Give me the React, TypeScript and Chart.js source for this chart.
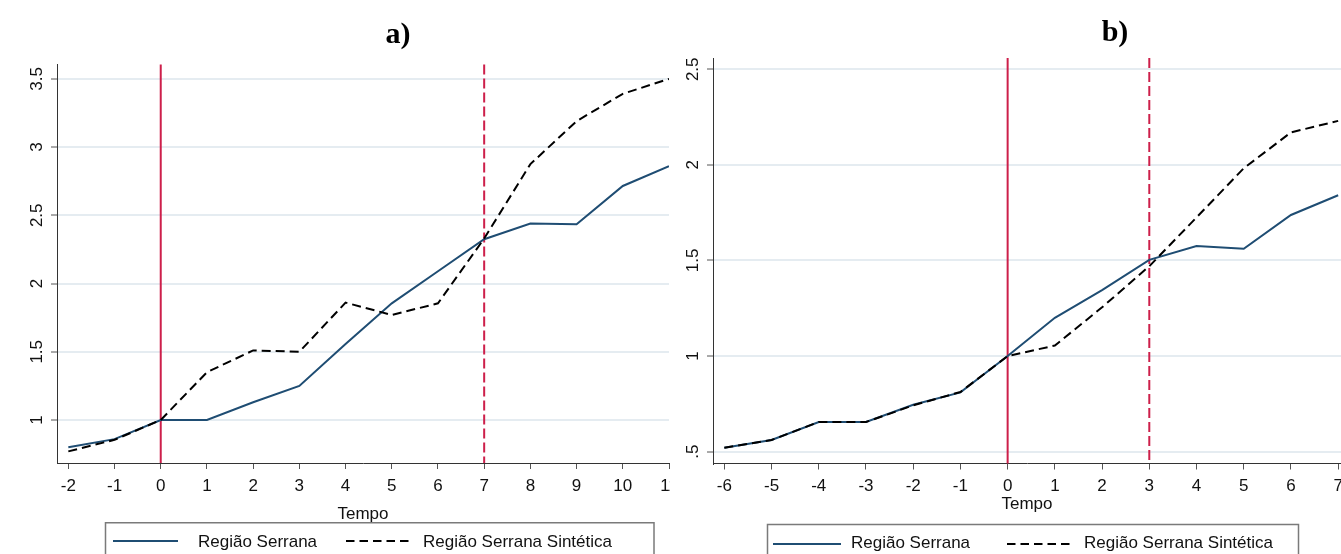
import React, { useEffect, useRef } from "react";
import Chart from "chart.js/auto";

// ---------- data ----------
const tempoA = [-2, -1, 0, 1, 2, 3, 4, 5, 6, 7, 8, 9, 10, 11];
const serranaA = [0.8, 0.86, 1.0, 1.0, 1.13, 1.25, 1.557, 1.855, 2.09, 2.325, 2.44, 2.435, 2.715, 2.86];
const sinteticaA = [0.77, 0.855, 1.0, 1.35, 1.51, 1.5, 1.86, 1.77, 1.855, 2.33, 2.875, 3.19, 3.39, 3.5];
const yTicksA = [1, 1.5, 2, 2.5, 3, 3.5];
const yLabelsA = ["1", "1.5", "2", "2.5", "3", "3.5"];
const vLinesA = [0, 7];

const tempoB = [-6, -5, -4, -3, -2, -1, 0, 1, 2, 3, 4, 5, 6, 7];
const serranaB = [0.52, 0.561, 0.655, 0.655, 0.745, 0.81, 1.0, 1.2, 1.345, 1.503, 1.575, 1.561, 1.738, 1.841];
const sinteticaB = [0.52, 0.561, 0.655, 0.655, 0.742, 0.812, 1.0, 1.055, 1.255, 1.47, 1.725, 1.982, 2.17, 2.23];
const yTicksB = [0.5, 1, 1.5, 2, 2.5];
const yLabelsB = [".5", "1", "1.5", "2", "2.5"];
const vLinesB = [0, 3];

const seriesNames = ["Região Serrana", "Região Serrana Sintética"];
const panelTitles = ["a)", "b)"];
const xTitle = "Tempo";

// ---------- style ----------
const NAVY = "#1f4d73";
const RED = "#cd1f4a";
const GRID = "#e5ecf1";
const SANS = "'Liberation Sans', Arial, sans-serif";

type Panel = {
  left: number; width: number; yAxisW: number; padTop: number; padRight: number; xAxisH: number;
  xmin: number; xmax: number; ymin: number; ymax: number; titlePadBottom: number;
  tempo: number[]; serrana: number[]; sintetica: number[]; yTicks: number[]; yLabels: string[]; vLines: number[];
};

const panels: Panel[] = [
  { left: 0, width: 670, yAxisW: 57, padTop: 64.5, padRight: 1, xAxisH: 91, xmin: -2.245, xmax: 11, ymin: 0.685, ymax: 3.605, titlePadBottom: 29,
    tempo: tempoA, serrana: serranaA, sintetica: sinteticaA, yTicks: yTicksA, yLabels: yLabelsA, vLines: vLinesA },
  { left: 670, width: 671, yAxisW: 43, padTop: 58, padRight: 0, xAxisH: 90.5, xmin: -6.24, xmax: 7.06, ymin: 0.438, ymax: 2.559, titlePadBottom: 39,
    tempo: tempoB, serrana: serranaB, sintetica: sinteticaB, yTicks: yTicksB, yLabels: yLabelsB, vLines: vLinesB },
];

function PanelChart({ p }: { p: Panel }) {
  const ref = useRef<HTMLCanvasElement | null>(null);
  useEffect(() => {
    if (!ref.current) return;
    const vlinePlugin = {
      id: "vlines",
      beforeDatasetsDraw(chart: any) {
        const { ctx, chartArea, scales } = chart;
        ctx.save();
        ctx.strokeStyle = RED;
        ctx.lineWidth = 2;
        p.vLines.forEach((v, i) => {
          ctx.setLineDash(i === 0 ? [] : [10, 4]);
          const x = scales.x.getPixelForValue(v);
          ctx.beginPath();
          ctx.moveTo(x, chartArea.top);
          ctx.lineTo(x, chartArea.bottom);
          ctx.stroke();
        });
        ctx.restore();
      },
    };
    const chart = new Chart(ref.current, {
      type: "line",
      data: {
        datasets: [
          {
            label: seriesNames[0],
            data: p.tempo.map((t, i) => ({ x: t, y: p.serrana[i] })),
            borderColor: NAVY, borderWidth: 2, pointRadius: 0, tension: 0, order: 1,
          },
          {
            label: seriesNames[1],
            data: p.tempo.map((t, i) => ({ x: t, y: p.sintetica[i] })),
            borderColor: "#000", borderWidth: 2, borderDash: [9, 5], pointRadius: 0, tension: 0, order: 0,
          },
        ],
      },
      options: {
        animation: false,
        responsive: false,
        maintainAspectRatio: false,
        layout: { padding: { top: p.padTop, right: p.padRight, left: 0, bottom: 0 } },
        plugins: { legend: { display: false }, tooltip: { enabled: false }, title: { display: false } },
        scales: {
          x: {
            type: "linear", min: p.xmin, max: p.xmax,
            afterBuildTicks: (s: any) => { s.ticks = p.tempo.map((v) => ({ value: v })); },
            afterFit: (s: any) => { s.height = p.xAxisH; s.paddingLeft = 0; s.paddingRight = 0; },
            grid: { display: true, drawOnChartArea: false, drawTicks: true, tickLength: 6, tickColor: "#555", tickWidth: 1 },
            border: { display: true, color: "#333", width: 1 },
            ticks: { autoSkip: false, maxRotation: 0, minRotation: 0, padding: 7, color: "#111", font: { family: SANS, size: 17 }, callback: (v: any) => String(v) },
            title: { display: true, text: xTitle, color: "#111", font: { family: SANS, size: 17 }, padding: { top: 0, bottom: p.titlePadBottom } },
          },
          y: {
            type: "linear", min: p.ymin, max: p.ymax,
            afterBuildTicks: (s: any) => { s.ticks = p.yTicks.map((v) => ({ value: v })); },
            afterFit: (s: any) => { s.width = p.yAxisW; s.paddingTop = 0; s.paddingBottom = 0; },
            grid: { display: true, color: GRID, lineWidth: 2, drawTicks: true, tickLength: 6, tickColor: "#555", tickWidth: 1 },
            border: { display: true, color: "#333", width: 1 },
            ticks: {
              autoSkip: false, minRotation: 90, maxRotation: 90, crossAlign: "center", padding: 2, color: "#111",
              font: { family: SANS, size: 17 },
              callback: (v: any) => { const i = p.yTicks.indexOf(Number(v)); return i >= 0 ? p.yLabels[i] : ""; },
            },
          },
        },
      },
      plugins: [vlinePlugin],
    } as any);
    return () => chart.destroy();
  }, [p]);
  return (
    <canvas ref={ref} width={p.width} height={554}
      style={{ position: "absolute", left: p.left, top: 0, width: p.width, height: 554 }} />
  );
}

export default function App() {
  return (
    <div style={{ position: "absolute", left: 0, top: 0, width: 1341, height: 554, overflow: "hidden", background: "#fff" }}>
      {panels.map((p, i) => <PanelChart key={i} p={p} />)}
      <svg width={1341} height={554} style={{ position: "absolute", left: 0, top: 0 }}>
        <text x={398} y={42.5} textAnchor="middle" fontFamily="'Liberation Serif', 'Times New Roman', serif" fontWeight="bold" fontSize={30} fill="#000">{panelTitles[0]}</text>
        <text x={1115} y={40.5} textAnchor="middle" fontFamily="'Liberation Serif', 'Times New Roman', serif" fontWeight="bold" fontSize={30} fill="#000">{panelTitles[1]}</text>

        <rect x={105.5} y={522.75} width={548.5} height={60} fill="#fff" stroke="#7a7a7a" strokeWidth={1.5} />
        <line x1={113} x2={178} y1={541} y2={541} stroke={NAVY} strokeWidth={2} />
        <text x={198} y={546.5} fontFamily={SANS} fontSize={17} fill="#111">{seriesNames[0]}</text>
        <line x1={346} x2={411} y1={541} y2={541} stroke="#000" strokeWidth={2} strokeDasharray="8.5 5" />
        <text x={423} y={546.5} fontFamily={SANS} fontSize={17} fill="#111">{seriesNames[1]}</text>

        <rect x={767.5} y={524.5} width={531} height={60} fill="#fff" stroke="#7a7a7a" strokeWidth={1.5} />
        <line x1={773} x2={841} y1={544} y2={544} stroke={NAVY} strokeWidth={2} />
        <text x={851} y={547.5} fontFamily={SANS} fontSize={17} fill="#111">{seriesNames[0]}</text>
        <line x1={1007} x2={1072} y1={544} y2={544} stroke="#000" strokeWidth={2} strokeDasharray="8.5 5" />
        <text x={1084} y={547.5} fontFamily={SANS} fontSize={17} fill="#111">{seriesNames[1]}</text>
      </svg>
    </div>
  );
}
